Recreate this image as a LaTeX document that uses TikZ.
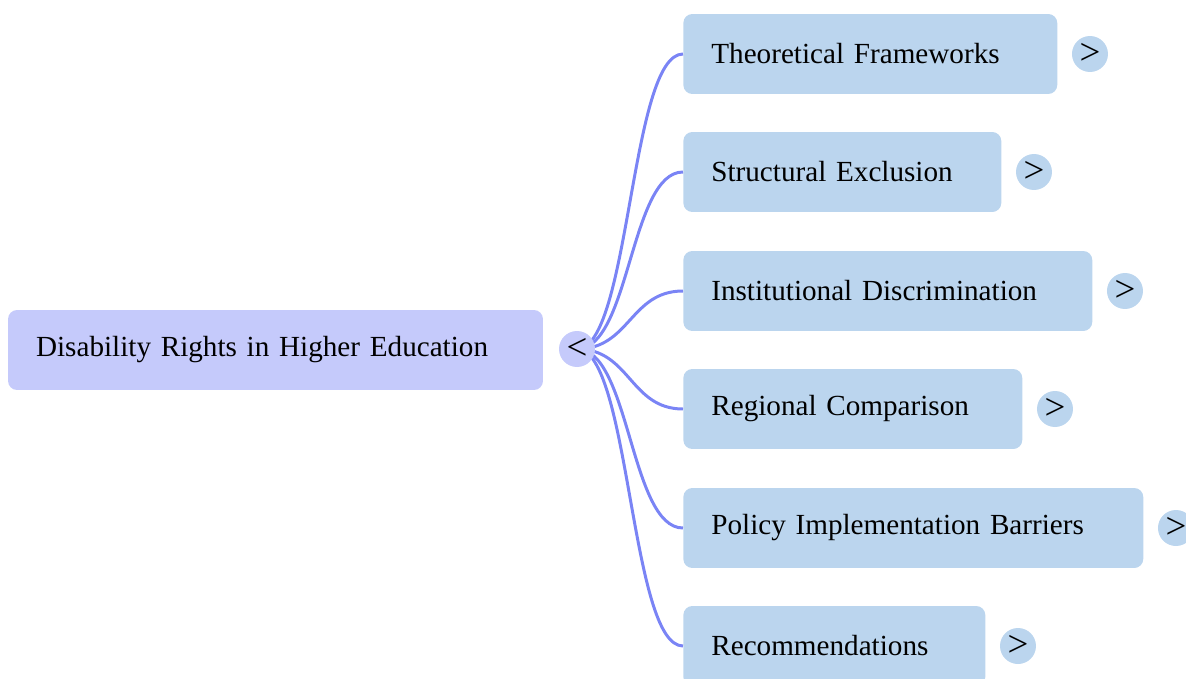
\documentclass[tikz,border=0pt]{standalone}
\usepackage{fontspec}
\setmainfont{Liberation Serif}
\usepackage{tikz}
\usetikzlibrary{positioning}

\definecolor{rootfill}{RGB}{197,202,251}
\definecolor{leaffill}{RGB}{187,213,238}
\definecolor{linkblue}{RGB}{122,132,245}

\tikzset{
    rootbox/.style = {fill=rootfill, rounded corners=0.18cm, minimum height=1.6cm,
        inner xsep=0.56cm, inner ysep=0pt, align=left},
    leafbox/.style = {fill=leaffill, rounded corners=0.18cm, minimum height=1.6cm,
        inner xsep=0.56cm, inner ysep=0pt, align=left, anchor=west},
    toggle/.style  = {circle, inner sep=0pt, minimum size=0.72cm,
        font=\fontsize{21}{22}\selectfont},
    link/.style    = {draw=linkblue, line width=1.7pt}
}

\begin{document}
\begin{tikzpicture}[x=0.02cm, y=-0.02cm, font=\fontsize{16.6}{20}\selectfont]
    % canvas in pixel units
    \clip (0,0) rectangle (1186,679);

    % root of the map
    \node[rootbox, text width=9.58cm] (root) at (275.5,350) {Disability Rights in Higher Education};
    \coordinate (hub) at (577,349);

    % branches: name / centre y / text width
    \foreach \name/\y/\w/\txt in {
        theo/54/6.36/Theoretical Frameworks,
        struct/172/5.24/Structural Exclusion,
        inst/291/7.06/Institutional Discrimination,
        region/409/5.66/Regional Comparison,
        policy/528/8.08/Policy Implementation Barriers,
        recom/646/4.92/Recommendations}{
        \node[leafbox, text width=\w cm] (\name) at (683,\y) {\txt};
        \node[toggle, fill=leaffill, right=0.28cm of \name] (\name Toggle) {>};
        \draw[link] (hub) .. controls +(53,0) and +(-53,0) .. (\name.west);
    }

    % collapse button on the root
    \node[toggle, fill=rootfill] (rootToggle) at (hub) {<};
\end{tikzpicture}
\end{document}
